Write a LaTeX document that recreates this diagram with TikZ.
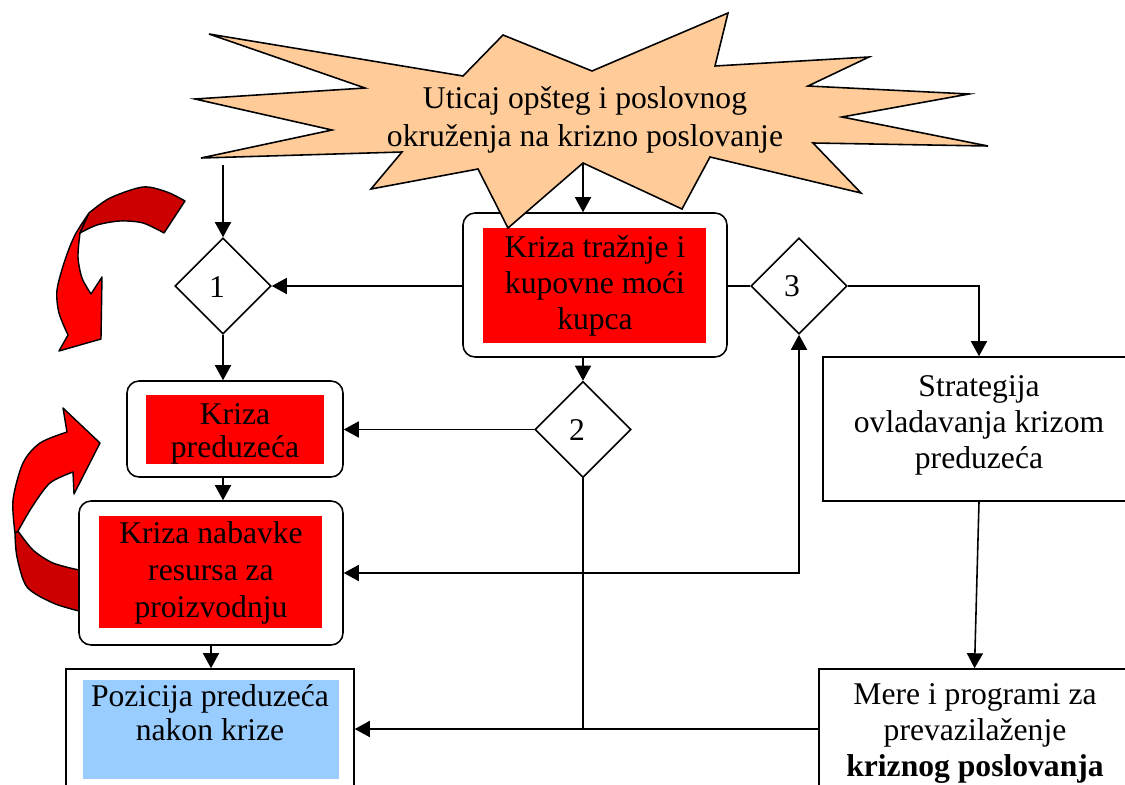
\documentclass[tikz,border=0pt]{standalone}
\usepackage{fontspec}
\setmainfont{Liberation Serif}
\usetikzlibrary{arrows.meta,shapes.geometric,calc}
\definecolor{peach}{RGB}{255,204,153}
\definecolor{boxred}{RGB}{255,0,0}
\definecolor{darkred}{RGB}{204,0,0}
\definecolor{lightblue}{RGB}{153,204,255}
\begin{document}
\begin{tikzpicture}[x=0.02cm,y=-0.02cm, line width=0.9pt,
  arr/.style={-{Triangle[length=0.3cm,width=0.32cm]}},
  dbl/.style={{Triangle[length=0.3cm,width=0.32cm]}-{Triangle[length=0.3cm,width=0.32cm]}},
  rbox/.style={draw, fill=white, rounded corners=0.24cm, inner sep=0pt},
  sbox/.style={draw, fill=white, inner sep=0pt},
  redfill/.style={fill=boxred, inner sep=0pt},
  bluefill/.style={fill=lightblue, inner sep=0pt},
  txt/.style={align=center, font=\fontsize{18}{20.5}\selectfont, inner sep=0pt},
  dia/.style={diamond, draw, fill=white, minimum width=1.92cm, minimum height=1.92cm, inner sep=0pt},
  ribbon/.style={draw, line width=0.8pt, line join=round}]
\fill[white] (0,0) rectangle (1125,784);
\clip (0,0) rectangle (1125,784);

% curved arrow A (top left)
\path[ribbon, fill=boxred] plot[smooth] coordinates {(89,213) (75,235) (65,260) (57,290) (59,313) (68,335)}
  -- (59,351) -- (101,339) -- (102,277) -- (91,294)
  -- plot[smooth] coordinates {(91,294) (82,278) (78,257) (80,233)} -- cycle;
\path[ribbon, fill=darkred] plot[smooth] coordinates {(89,213) (110,198) (143,187) (167,192) (185,201)}
  -- (164,233) -- plot[smooth] coordinates {(164,233) (143,223) (120,221) (97,225) (80,233)} -- cycle;

% curved arrow B (left)
\path[ribbon, fill=darkred] plot[smooth] coordinates {(15,533) (17,557) (27,587) (53,603) (79,611)}
  -- (79,570) -- plot[smooth] coordinates {(79,570) (53,563) (33,550) (18,531)} -- cycle;
\path[ribbon, fill=boxred] plot[smooth] coordinates {(15,533) (13,500) (23,463) (40,443) (67,432)}
  -- (63,408) -- (100,443) -- (74,494) -- (73,472)
  -- plot[smooth] coordinates {(73,472) (50,483) (32,507) (18,531)} -- cycle;

% Kriza traznje box
\node[rbox, minimum width=5.28cm, minimum height=2.88cm] (kt) at (595,285) {};
\node[redfill, minimum width=4.46cm, minimum height=2.30cm] (ktr) at (594.5,285.5) {};
\node[txt] (ktt) at (595,286) {Kriza tražnje i\\kupovne moći\\kupca};

% starburst
\coordinate (sbv) at (583,163);
\draw[fill=peach, line join=miter] (209,34) -- (463,76) -- (503,35) -- (592,71) -- (728,13) -- (715,66)
  -- (869,57) -- (808,86) -- (969,94) -- (842,117) -- (988,146) -- (813,143) -- (861,193)
  -- (710,157) -- (682,209) -- (sbv) -- (508,228) -- (478,169) -- (371,189) -- (402,152)
  -- (201,158) -- (332,130) -- (195,99) -- (365,88) -- cycle;
\node[txt, align=center, font=\fontsize{18}{21.5}\selectfont] (sbt) at (585,120) {Uticaj opšteg i poslovnog\\okruženja na krizno poslovanje};

% Kriza preduzeca
\node[rbox, minimum width=4.32cm, minimum height=1.92cm] (kp) at (235,429) {};
\node[redfill, minimum width=3.56cm, minimum height=1.38cm] (kpr) at (235,429.5) {};
\node[txt, font=\fontsize{18}{19}\selectfont] (kpt) at (235,434) {Kriza\\preduzeća};

% Kriza nabavke
\node[rbox, minimum width=5.28cm, minimum height=2.88cm] (kn) at (211,573) {};
\node[redfill, minimum width=4.46cm, minimum height=2.24cm] (knr) at (210.5,572) {};
\node[txt, font=\fontsize{18}{21}\selectfont] (knt) at (211,573) {Kriza nabavke\\resursa za\\proizvodnju};

% Pozicija
\node[sbox, minimum width=5.76cm, minimum height=2.62cm] (poz) at (210,734.5) {};
\node[bluefill, minimum width=5.12cm, minimum height=1.98cm] (pozr) at (211,729.5) {};
\node[txt, font=\fontsize{18}{19}\selectfont] (pozt) at (210,712.5) {Pozicija preduzeća\\nakon krize};

% Strategija
\node[sbox, minimum width=6.14cm, minimum height=2.88cm] (str) at (976.5,429) {};
\node[txt, font=\fontsize{18}{20.5}\selectfont] (strt) at (979,425) {Strategija\\ovladavanja krizom\\preduzeća};

% Mere
\node[sbox, minimum width=6.22cm, minimum height=2.62cm] (mere) at (974.5,734.5) {};
\node[txt, font=\fontsize{18}{20.5}\selectfont] (meret) at (975,733.5) {Mere i programi za\\prevazilaženje\\\textbf{kriznog poslovanja}};

% diamonds
\node[dia] (d1) at (223,286) {};
\node[txt] (d1t) at (217,287) {1};
\node[dia] (d2) at (583,429.5) {};
\node[txt] (d2t) at (577,430) {2};
\node[dia] (d3) at (799,286) {};
\node[txt] (d3t) at (792,286) {3};

% connectors
\coordinate (s1) at (223,165);
\draw[arr] (s1) -- (d1.north);
\draw[arr] (sbv) -- (sbv |- kt.north);
\draw[arr] (kt.west |- d1.east) -- (d1.east);
\draw (kt.east |- d3.west) -- (d3.west);
\draw[arr] (d2.north |- kt.south) -- (d2.north);
\draw[arr] (d1.south) -- (d1.south |- kp.north);
\draw[arr] (d2.west) -- (d2.west -| kp.east);
\draw[arr] (d1.south |- kp.south) -- (d1.south |- kn.north);
\draw[arr] (kn.south -| pozr.north) -- (pozr.north |- poz.north);
\coordinate (r3) at (979,286);
\draw[arr] (d3.east) -- (r3) -- (r3 |- str.north);
\draw[arr] (r3 |- str.south) -- (mere.north);
\draw[dbl] (kn.east) -| (d3.south);
\coordinate (pj) at (583,729);
\draw (d2.south) -- (pj);
\draw[arr] (mere.west |- pj) -- (poz.east |- pj);
\end{tikzpicture}
\end{document}
